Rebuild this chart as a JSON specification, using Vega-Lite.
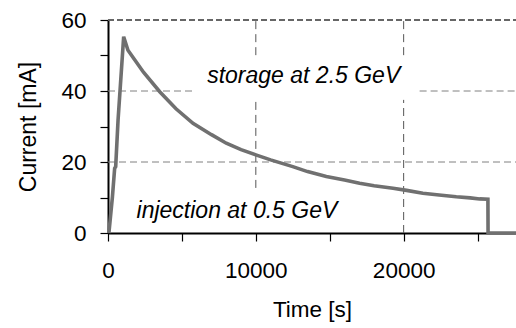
{
  "$schema": "https://vega.github.io/schema/vega-lite/v6.json",
  "width": 408,
  "height": 213,
  "autosize": {"type": "none"},
  "padding": {"left": 108, "top": 20, "right": 0, "bottom": 95},
  "background": "white",
  "config": {"view": {"stroke": null}, "font": "Liberation Sans"},
  "data": {
    "values": [
      {"kind": "h", "x": 0, "x2": 27600, "y": 20},
      {"kind": "h", "x": 0, "x2": 5730, "y": 40},
      {"kind": "h", "x": 21080, "x2": 27600, "y": 40},
      {"kind": "v", "x": 10000, "y": 50.1, "y2": 60},
      {"kind": "v", "x": 10000, "y": 12.7, "y2": 37.5},
      {"kind": "v", "x": 20000, "y": 50.1, "y2": 60},
      {"kind": "v", "x": 20000, "y": 0, "y2": 37.5},
      {"kind": "top", "x": 0, "x2": 27600, "y": 60},
      {"kind": "label", "x": 13240, "y": 42.2, "label": "storage at 2.5 GeV"},
      {"kind": "label", "x": 8720, "y": 4.1, "label": "injection at 0.5 GeV"},
      {"kind": "c", "x": 60, "y": 0},
      {"kind": "c", "x": 300, "y": 10.2},
      {"kind": "c", "x": 450, "y": 18.2},
      {"kind": "c", "x": 520, "y": 18.7},
      {"kind": "c", "x": 680, "y": 31.8},
      {"kind": "c", "x": 1060, "y": 55.3},
      {"kind": "c", "x": 1350, "y": 51.5},
      {"kind": "c", "x": 2400, "y": 45.3},
      {"kind": "c", "x": 3500, "y": 39.8},
      {"kind": "c", "x": 4600, "y": 35.0},
      {"kind": "c", "x": 5750, "y": 30.9},
      {"kind": "c", "x": 7000, "y": 27.7},
      {"kind": "c", "x": 8000, "y": 25.3},
      {"kind": "c", "x": 9000, "y": 23.5},
      {"kind": "c", "x": 10000, "y": 22.0},
      {"kind": "c", "x": 11000, "y": 20.6},
      {"kind": "c", "x": 12500, "y": 18.7},
      {"kind": "c", "x": 13500, "y": 17.3},
      {"kind": "c", "x": 14770, "y": 15.9},
      {"kind": "c", "x": 16000, "y": 14.9},
      {"kind": "c", "x": 17020, "y": 14.0},
      {"kind": "c", "x": 18000, "y": 13.3},
      {"kind": "c", "x": 19280, "y": 12.6},
      {"kind": "c", "x": 20200, "y": 12.0},
      {"kind": "c", "x": 21300, "y": 11.2},
      {"kind": "c", "x": 22400, "y": 10.7},
      {"kind": "c", "x": 23560, "y": 10.2},
      {"kind": "c", "x": 24500, "y": 9.9},
      {"kind": "c", "x": 25140, "y": 9.6},
      {"kind": "c", "x": 25700, "y": 9.5},
      {"kind": "c", "x": 25710, "y": 0},
      {"kind": "c", "x": 27600, "y": 0}
    ]
  },
  "encoding": {
    "x": {
      "field": "x",
      "type": "quantitative",
      "scale": {"domain": [0, 27600], "nice": false, "zero": false},
      "axis": {
        "title": "Time [s]",
        "values": [0, 5000, 10000, 15000, 20000, 25000],
        "format": "d",
        "labelExpr": "datum.value % 10000 == 0 ? datum.label : ''",
        "grid": false,
        "domainColor": "black",
        "domainWidth": 2,
        "tickColor": "black",
        "tickSize": 8,
        "tickWidth": 1.2,
        "labelFontSize": 22.5,
        "labelColor": "black",
        "labelPadding": 18,
        "labelFlush": false,
        "titleFontSize": 22.5,
        "titleFontWeight": "normal",
        "titleColor": "black",
        "titlePadding": 17
      }
    },
    "y": {
      "field": "y",
      "type": "quantitative",
      "scale": {"domain": [0, 60], "nice": false},
      "axis": {
        "title": "Current [mA]",
        "values": [0, 10, 20, 30, 40, 50, 60],
        "labelExpr": "datum.value % 20 == 0 ? datum.label : ''",
        "grid": false,
        "domainColor": "black",
        "domainWidth": 2,
        "tickColor": "black",
        "tickSize": 8,
        "tickWidth": 1.2,
        "labelFontSize": 22.5,
        "labelColor": "black",
        "labelPadding": 14,
        "labelFlush": false,
        "titleFontSize": 23,
        "titleFontWeight": "normal",
        "titleColor": "black",
        "titlePadding": 20
      }
    }
  },
  "layer": [
    {
      "transform": [{"filter": "datum.kind == 'h'"}],
      "mark": {"type": "rule", "color": "#808080", "strokeWidth": 1, "strokeDash": [7, 4]},
      "encoding": {"x2": {"field": "x2"}}
    },
    {
      "transform": [{"filter": "datum.kind == 'v'"}],
      "mark": {"type": "rule", "color": "#555555", "strokeWidth": 1, "strokeDash": [8, 5]},
      "encoding": {"y2": {"field": "y2"}}
    },
    {
      "transform": [{"filter": "datum.kind == 'c'"}],
      "mark": {"type": "line", "color": "#707070", "strokeWidth": 3.6, "strokeJoin": "miter"},
      "encoding": {}
    },
    {
      "transform": [{"filter": "datum.kind == 'top'"}],
      "mark": {"type": "rule", "color": "#666666", "strokeWidth": 2, "strokeDash": [6, 3]},
      "encoding": {"x2": {"field": "x2"}}
    },
    {
      "transform": [{"filter": "datum.kind == 'label'"}],
      "mark": {"type": "text", "fontSize": 23, "fontStyle": "italic", "align": "center", "baseline": "alphabetic", "color": "black"},
      "encoding": {"text": {"field": "label"}}
    }
  ]
}
